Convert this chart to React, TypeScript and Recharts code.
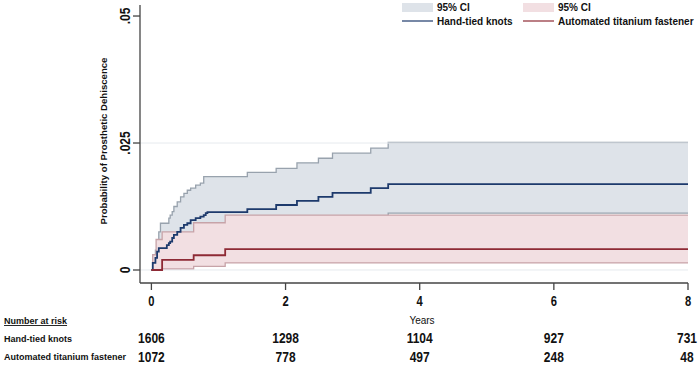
import {
  Area,
  ComposedChart,
  Line,
  ReferenceLine,
  XAxis,
  YAxis,
} from "recharts";

// years shown on the axis and the number at risk under each
const years = [0, 2, 4, 6, 8];
const handTiedAtRisk = [1606, 1298, 1104, 927, 731];
const titaniumAtRisk = [1072, 778, 497, 248, 48];
const yTicks = [0, 0.025, 0.05];

// hand-tied knots: failure estimate and 95% CI
const handT = [0, 0.02, 0.06, 0.085, 0.11, 0.135, 0.23, 0.26, 0.28, 0.31, 0.335, 0.385, 0.435, 0.485, 0.535, 0.585, 0.66, 0.73, 0.78, 0.81, 0.835, 1.43, 1.86, 2.17, 2.49, 2.7, 3.27, 3.53, 8];
const handEst = [0, 0.0014, 0.0024, 0.0036, 0.0043, 0.0043, 0.0049, 0.0053, 0.0056, 0.0063, 0.0069, 0.0075, 0.0083, 0.0089, 0.0092, 0.0098, 0.0102, 0.0105, 0.0108, 0.0112, 0.0114, 0.012, 0.0128, 0.0136, 0.0144, 0.0152, 0.0161, 0.0169, 0.0169];
const handLo = [0, 0.0003, 0.0008, 0.0014, 0.0018, 0.0018, 0.0022, 0.0025, 0.0027, 0.0031, 0.0035, 0.0039, 0.0044, 0.0049, 0.0051, 0.0056, 0.0059, 0.0062, 0.0064, 0.0068, 0.007, 0.0075, 0.0081, 0.0087, 0.0093, 0.0099, 0.0106, 0.0112, 0.0112];
const handHi = [0, 0.003, 0.0039, 0.0056, 0.0075, 0.0092, 0.0092, 0.0102, 0.0108, 0.0115, 0.0125, 0.0134, 0.0144, 0.0151, 0.0157, 0.0161, 0.0167, 0.0171, 0.0184, 0.0184, 0.0184, 0.0192, 0.02, 0.0211, 0.022, 0.023, 0.024, 0.0251, 0.0251];

// automated titanium fastener
const autoT = [0, 0.02, 0.07, 0.16, 0.63, 1.1, 8];
const autoEst = [0, 0, 0, 0.002, 0.0029, 0.0041, 0.0041];
const autoLo = [0, 0, 0, 0.0002, 0.0007, 0.0014, 0.0014];
const autoHi = [0, 0.003, 0.006, 0.0075, 0.0093, 0.0108, 0.0108];

const toRows = (t: number[], est: number[], lo: number[], hi: number[]) =>
  t.map((x, i) => ({ t: x, est: est[i], lo: lo[i], hi: hi[i], band: [lo[i], hi[i]] }));

const handData = toRows(handT, handEst, handLo, handHi);
const autoData = toRows(autoT, autoEst, autoLo, autoHi);

const sans = "'Liberation Sans', Arial, sans-serif";
const SQUEEZE = 0.8; // stands in for Arial Narrow, which isn't installed

const BLUE = "#1d3a6c";
const RED = "#8e2a35";
const BLUE_BAND = "#dee3e9";
const RED_BAND = "#f2dfe2";
const BLUE_CI = "#98a2ad";
const RED_CI = "#c7a3a8";
const AXIS = "#444";

const legendItems = [
  { label: "95% CI", kind: "box", color: BLUE_BAND, x: 402 },
  { label: "95% CI", kind: "box", color: RED_BAND, x: 523 },
  { label: "Hand-tied knots", kind: "line", color: BLUE, x: 402 },
  { label: "Automated titanium fastener", kind: "line", color: RED, x: 523 },
];

const riskRows = [
  { label: "Hand-tied knots", values: handTiedAtRisk },
  { label: "Automated titanium fastener", values: titaniumAtRisk },
];

const fmtY = (v: number) => (v === 0 ? "0" : String(v).replace(/^0/, ""));

const NarrowText = ({ x, y, size, rotate = 0, children }: any) => (
  <g transform={`translate(${x} ${y}) rotate(${rotate}) scale(${SQUEEZE} 1)`}>
    <text x={0} y={0} textAnchor="middle" fontFamily={sans} fontWeight="bold" fontSize={size} fill="#111">
      {children}
    </text>
  </g>
);

const YTick = (props: any) => {
  const { x, y, payload } = props;
  return (
    <NarrowText x={x} y={y} size={15} rotate={-90}>
      {fmtY(payload.value)}
    </NarrowText>
  );
};

const XTick = (props: any) => {
  const { x, y, payload } = props;
  const i = years.indexOf(payload.value);
  return (
    <g>
      <NarrowText x={x} y={y + 14} size={14}>
        {payload.value}
      </NarrowText>
      {riskRows.map((r, k) => (
        <NarrowText key={k} x={Math.min(x, 687)} y={y + 51 + k * 19} size={15}>
          {r.values[i]}
        </NarrowText>
      ))}
    </g>
  );
};

export default function App() {
  return (
    <div style={{ position: "absolute", left: 0, top: 0, width: 700, height: 366, background: "#fff" }}>
      <ComposedChart
        width={700}
        height={366}
        margin={{ top: 5, right: 12, left: 0, bottom: 0 }}
      >
        <XAxis
          type="number"
          dataKey="t"
          domain={[-0.17, 8]}
          ticks={years}
          allowDataOverflow
          height={83}
          tickSize={7}
          tickMargin={2}
          stroke={AXIS}
          strokeWidth={1.3}
          tick={<XTick />}
        />
        <YAxis
          type="number"
          domain={[-0.00256, 0.05217]}
          ticks={yTicks}
          allowDataOverflow
          width={140}
          tickSize={7}
          tickMargin={3}
          stroke={AXIS}
          strokeWidth={1.3}
          tick={<YTick />}
        />
        <ReferenceLine y={0} stroke="#e6eaee" strokeWidth={1} />
        <ReferenceLine y={0.025} stroke="#e6eaee" strokeWidth={1} />

        <Area data={handData} dataKey="band" type="stepAfter" fill={BLUE_BAND} fillOpacity={1} stroke={BLUE_CI} strokeWidth={1.3} dot={false} activeDot={false} isAnimationActive={false} />
        <Area data={autoData} dataKey="band" type="stepAfter" fill={RED_BAND} fillOpacity={1} stroke={RED_CI} strokeWidth={1.3} dot={false} activeDot={false} isAnimationActive={false} />

        <Line data={handData} dataKey="est" type="stepAfter" stroke={BLUE} strokeWidth={1.8} dot={false} activeDot={false} isAnimationActive={false} />
        <Line data={autoData} dataKey="est" type="stepAfter" stroke={RED} strokeWidth={1.8} dot={false} activeDot={false} isAnimationActive={false} />
      </ComposedChart>

      <svg
        width={700}
        height={366}
        style={{ position: "absolute", left: 0, top: 0, pointerEvents: "none" }}
        fontFamily={sans}
        fontWeight="bold"
        fill="#111"
      >
        {legendItems.map((it, k) =>
          it.kind === "box" ? (
            <g key={k}>
              <rect x={it.x} y={3} width={31} height={9} fill={it.color} />
              <text x={it.x + 35} y={11} fontSize={10}>{it.label}</text>
            </g>
          ) : (
            <g key={k}>
              <line x1={it.x} x2={it.x + 31} y1={21} y2={21} stroke={it.color} strokeWidth={1.2} />
              <text x={it.x + 35} y={24.5} fontSize={10}>{it.label}</text>
            </g>
          )
        )}
        <text
          x={107}
          y={141}
          transform="rotate(-90 107 141)"
          textAnchor="middle"
          fontSize={9.6}
        >
          Probability of Prosthetic Dehiscence
        </text>
        <text x={422} y={324} textAnchor="middle" fontSize={10} fontWeight="normal">
          Years
        </text>
        <text x={4} y={324} fontSize={9} textDecoration="underline">
          Number at risk
        </text>
        {riskRows.map((r, k) => (
          <text key={k} x={4} y={342 + k * 18} fontSize={9}>
            {r.label}
          </text>
        ))}
      </svg>
    </div>
  );
}
